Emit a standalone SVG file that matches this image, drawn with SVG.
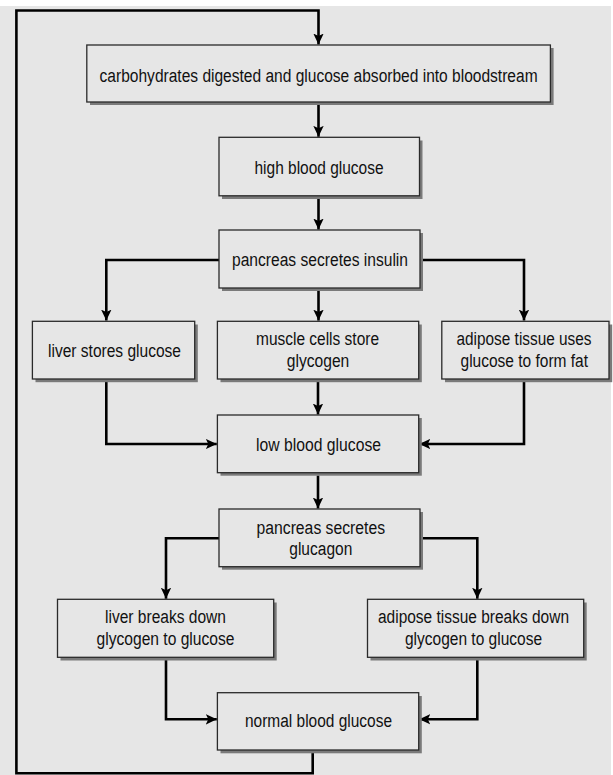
<svg xmlns="http://www.w3.org/2000/svg" width="613" height="775" viewBox="0 0 613 775">
<defs>
<style>
.bg{fill:#e6e6e6}
.box{fill:#e6e6e6;stroke:#2a2a2a;stroke-width:1.3}
.sh{fill:#7a7a7a}
.t{font-family:"Liberation Sans Narrow","Liberation Sans",Arial,sans-serif;font-size:18px;fill:#111;text-anchor:middle}
.c{fill:none;stroke:#000;stroke-width:2.6;stroke-linejoin:miter}
</style>
<marker id="ah" markerUnits="userSpaceOnUse" markerWidth="12" markerHeight="12" viewBox="0 0 12 12" refX="11" refY="6" orient="auto">
<path d="M0,0.8 L11,6 L0,11.2 L2.5,6 Z" fill="#000"/>
</marker>
</defs>
<rect x="0" y="0" width="613" height="775" fill="#ffffff"/>
<rect class="bg" x="0" y="6" width="611" height="769"/>

<g id="connectors">
<path class="c" d="M312.7 752 V773.3 H16.4 V10.5 H318.5 V44.5" marker-end="url(#ah)"/>
<path class="c" d="M318.5 104 V136.8" marker-end="url(#ah)"/>
<path class="c" d="M318.5 198 V229.5" marker-end="url(#ah)"/>
<path class="c" d="M219 260 H106.3 V320.6" marker-end="url(#ah)"/>
<path class="c" d="M420 260 H524 V320.6" marker-end="url(#ah)"/>
<path class="c" d="M318.5 290 V320.6" marker-end="url(#ah)"/>
<path class="c" d="M318 382 V414.5" marker-end="url(#ah)"/>
<path class="c" d="M106.3 380 V444 H216.8" marker-end="url(#ah)"/>
<path class="c" d="M524 380 V444 H419.3" marker-end="url(#ah)"/>
<path class="c" d="M318 475.5 V508.5" marker-end="url(#ah)"/>
<path class="c" d="M219 538.3 H166 V598.7" marker-end="url(#ah)"/>
<path class="c" d="M420 538.3 H477.3 V598.7" marker-end="url(#ah)"/>
<path class="c" d="M166 660 V719.3 H216.8" marker-end="url(#ah)"/>
<path class="c" d="M477.3 660 V719.3 H419.3" marker-end="url(#ah)"/>
</g>

<g id="n-carbs">
<rect class="sh" x="90" y="48" width="463.6" height="57"/>
<rect class="box" x="86.8" y="45" width="463.6" height="57"/>
<text class="t" x="318.6" y="82" textLength="438" lengthAdjust="spacingAndGlyphs">carbohydrates digested and glucose absorbed into bloodstream</text>
</g>

<g id="n-high">
<rect class="sh" x="222" y="140.5" width="200.5" height="58.5"/>
<rect class="box" x="219" y="137.3" width="200.5" height="58.5"/>
<text class="t" x="319" y="174" textLength="129" lengthAdjust="spacingAndGlyphs">high blood glucose</text>
</g>

<g id="n-insulin">
<rect class="sh" x="222" y="233" width="201" height="58"/>
<rect class="box" x="219" y="230" width="201" height="58"/>
<text class="t" x="320" y="266" textLength="176" lengthAdjust="spacingAndGlyphs">pancreas secretes insulin</text>
</g>

<g id="n-liver-store">
<rect class="sh" x="35.5" y="324.5" width="162.3" height="57.7"/>
<rect class="box" x="32.4" y="321.3" width="162.3" height="57.7"/>
<text class="t" x="114.5" y="357" textLength="133" lengthAdjust="spacingAndGlyphs">liver stores glucose</text>
</g>

<g id="n-muscle">
<rect class="sh" x="220.5" y="324.5" width="201.3" height="57.7"/>
<rect class="box" x="217.4" y="321.3" width="201.3" height="57.7"/>
<text class="t" x="317.5" y="345" textLength="123" lengthAdjust="spacingAndGlyphs">muscle cells store</text>
<text class="t" x="318" y="367" textLength="62.5" lengthAdjust="spacingAndGlyphs">glycogen</text>
</g>

<g id="n-adipose-fat">
<rect class="sh" x="445" y="324.5" width="167.2" height="57.7"/>
<rect class="box" x="441.8" y="321.3" width="167.2" height="57.7"/>
<text class="t" x="524" y="345" textLength="135" lengthAdjust="spacingAndGlyphs">adipose tissue uses</text>
<text class="t" x="524.3" y="367" textLength="127.5" lengthAdjust="spacingAndGlyphs">glucose to form fat</text>
</g>

<g id="n-low">
<rect class="sh" x="220.5" y="418" width="201.3" height="57.7"/>
<rect class="box" x="217.4" y="415" width="201.3" height="57.7"/>
<text class="t" x="318.5" y="451" textLength="125" lengthAdjust="spacingAndGlyphs">low blood glucose</text>
</g>

<g id="n-glucagon">
<rect class="sh" x="222" y="512" width="201" height="57.7"/>
<rect class="box" x="219" y="509" width="201" height="57.7"/>
<text class="t" x="320.8" y="533.5" textLength="128.6" lengthAdjust="spacingAndGlyphs">pancreas secretes</text>
<text class="t" x="320.8" y="555" textLength="63" lengthAdjust="spacingAndGlyphs">glucagon</text>
</g>

<g id="n-liver-break">
<rect class="sh" x="60.5" y="602.5" width="216.2" height="58"/>
<rect class="box" x="57.5" y="599.3" width="216.2" height="58"/>
<text class="t" x="165.5" y="623" textLength="121" lengthAdjust="spacingAndGlyphs">liver breaks down</text>
<text class="t" x="165.5" y="645" textLength="138" lengthAdjust="spacingAndGlyphs">glycogen to glucose</text>
</g>

<g id="n-adipose-break">
<rect class="sh" x="370.5" y="602.5" width="216.2" height="58"/>
<rect class="box" x="367.5" y="599.3" width="216.2" height="58"/>
<text class="t" x="473.5" y="623" textLength="191" lengthAdjust="spacingAndGlyphs">adipose tissue breaks down</text>
<text class="t" x="473.5" y="645" textLength="137" lengthAdjust="spacingAndGlyphs">glycogen to glucose</text>
</g>

<g id="n-normal">
<rect class="sh" x="220.5" y="696" width="201.3" height="57.3"/>
<rect class="box" x="217.4" y="692.7" width="201.3" height="57.3"/>
<text class="t" x="318.5" y="727" textLength="147" lengthAdjust="spacingAndGlyphs">normal blood glucose</text>
</g>
</svg>
